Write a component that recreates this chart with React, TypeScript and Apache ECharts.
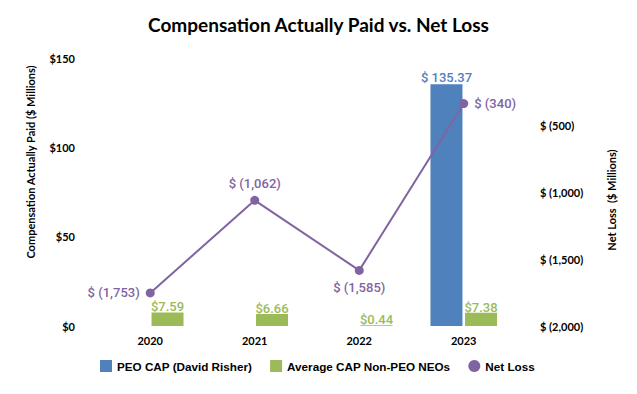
import React, { useEffect, useRef } from "react";
import * as echarts from "echarts";

const years = ["2020", "2021", "2022", "2023"];
const peoCap: (number | null)[] = [null, null, null, 135.37];
const avgNonPeo = [7.59, 6.66, 0.44, 7.38];
const netLoss = [-1753, -1062, -1585, -340];
const lineLabelPos = ["left", "top", "bottom", "right"];

const BLUE = "#4f81bd";
const GREEN = "#9bbb59";
const PURPLE = "#8064a2";

export default function App() {
  const ref = useRef<HTMLDivElement>(null);
  useEffect(() => {
    const chart = echarts.init(ref.current!, null, { renderer: "svg" });
    const fmtLoss = (v: number) =>
      "$ (" + Math.abs(v).toLocaleString("en-US") + ")";
    chart.setOption({
      animation: false,
      backgroundColor: "#ffffff",
      title: {
        text: "Compensation Actually Paid vs. Net Loss",
        left: "center",
        top: 10,
        textStyle: { fontFamily: "Lato", fontWeight: "bold", fontSize: 19, color: "#000" },
      },
      grid: { left: 98, right: 121, top: 58, bottom: 68 },
      legend: {
        left: 95,
        top: 355,
        itemWidth: 12,
        itemHeight: 12,
        itemGap: 18,
        textStyle: { fontFamily: "Liberation Sans", fontWeight: "bold", fontSize: 11.7, color: "#000" },
        data: [
          { name: "PEO CAP (David Risher)", icon: "rect" },
          { name: "Average CAP Non-PEO NEOs", icon: "rect" },
          { name: "Net Loss", icon: "circle" },
        ],
      },
      xAxis: {
        type: "category",
        data: years,
        axisLine: { show: false },
        axisTick: { show: false },
        axisLabel: { fontFamily: "Lato", fontWeight: "bold", fontSize: 11, color: "#000", margin: 9 },
      },
      yAxis: [
        {
          type: "value",
          min: 0,
          max: 150,
          interval: 50,
          splitLine: { show: false },
          axisLine: { show: false },
          axisTick: { show: false },
          axisLabel: {
            fontFamily: "Lato",
            fontWeight: "bold",
            fontSize: 11,
            color: "#000",
            margin: 23,
            formatter: (v: number) => "$" + v,
          },
        },
        {
          type: "value",
          min: -2000,
          max: 0,
          interval: 500,
          splitLine: { show: false },
          axisLine: { show: false },
          axisTick: { show: false },
          axisLabel: {
            fontFamily: "Lato",
            fontWeight: "bold",
            fontSize: 11,
            color: "#000",
            margin: 24,
            formatter: (v: number) => (v === 0 ? "" : fmtLoss(v)),
          },
        },
      ],
      graphic: [
        {
          type: "text",
          x: 30,
          y: 162,
          rotation: Math.PI / 2,
          style: {
            text: "Compensation Actually Paid ($ Millions)",
            fontFamily: "Lato",
            fontWeight: "bold",
            fontSize: 11,
            fill: "#000",
            align: "center",
            verticalAlign: "middle",
          },
        },
        {
          type: "text",
          x: 611,
          y: 200,
          rotation: Math.PI / 2,
          style: {
            text: "Net Loss  ($ Millions)",
            fontFamily: "Lato",
            fontWeight: "bold",
            fontSize: 11,
            fill: "#000",
            align: "center",
            verticalAlign: "middle",
          },
        },
      ],
      series: [
        {
          name: "PEO CAP (David Risher)",
          type: "bar",
          data: peoCap,
          barWidth: 32,
          barGap: "8%",
          itemStyle: { color: BLUE },
          label: {
            show: true,
            position: "top",
            distance: 0,
            color: BLUE,
            fontFamily: "Roboto",
            fontWeight: 500,
            fontSize: 13,
            formatter: (p: any) => "$ " + p.value.toFixed(2),
          },
        },
        {
          name: "Average CAP Non-PEO NEOs",
          type: "bar",
          data: avgNonPeo,
          barWidth: 32,
          itemStyle: { color: GREEN },
          label: {
            show: true,
            position: "top",
            distance: -1,
            color: GREEN,
            fontFamily: "Roboto",
            fontWeight: 500,
            fontSize: 13,
            formatter: (p: any) => "$" + p.value.toFixed(2),
          },
        },
        {
          name: "Net Loss",
          type: "line",
          yAxisIndex: 1,
          data: netLoss.map((v, i) => ({
            value: v,
            label: { position: lineLabelPos[i] },
          })),
          symbol: "circle",
          symbolSize: 9,
          lineStyle: { color: PURPLE, width: 2 },
          itemStyle: { color: PURPLE },
          z: 5,
          label: {
            show: true,
            distance: 6,
            color: PURPLE,
            fontFamily: "Roboto",
            fontWeight: 500,
            fontSize: 13,
            formatter: (p: any) => fmtLoss(p.value),
          },
        },
      ],
    });
    return () => chart.dispose();
  }, []);
  return (
    <div
      ref={ref}
      style={{ position: "fixed", left: 0, top: 0, width: 637, height: 394 }}
    />
  );
}
